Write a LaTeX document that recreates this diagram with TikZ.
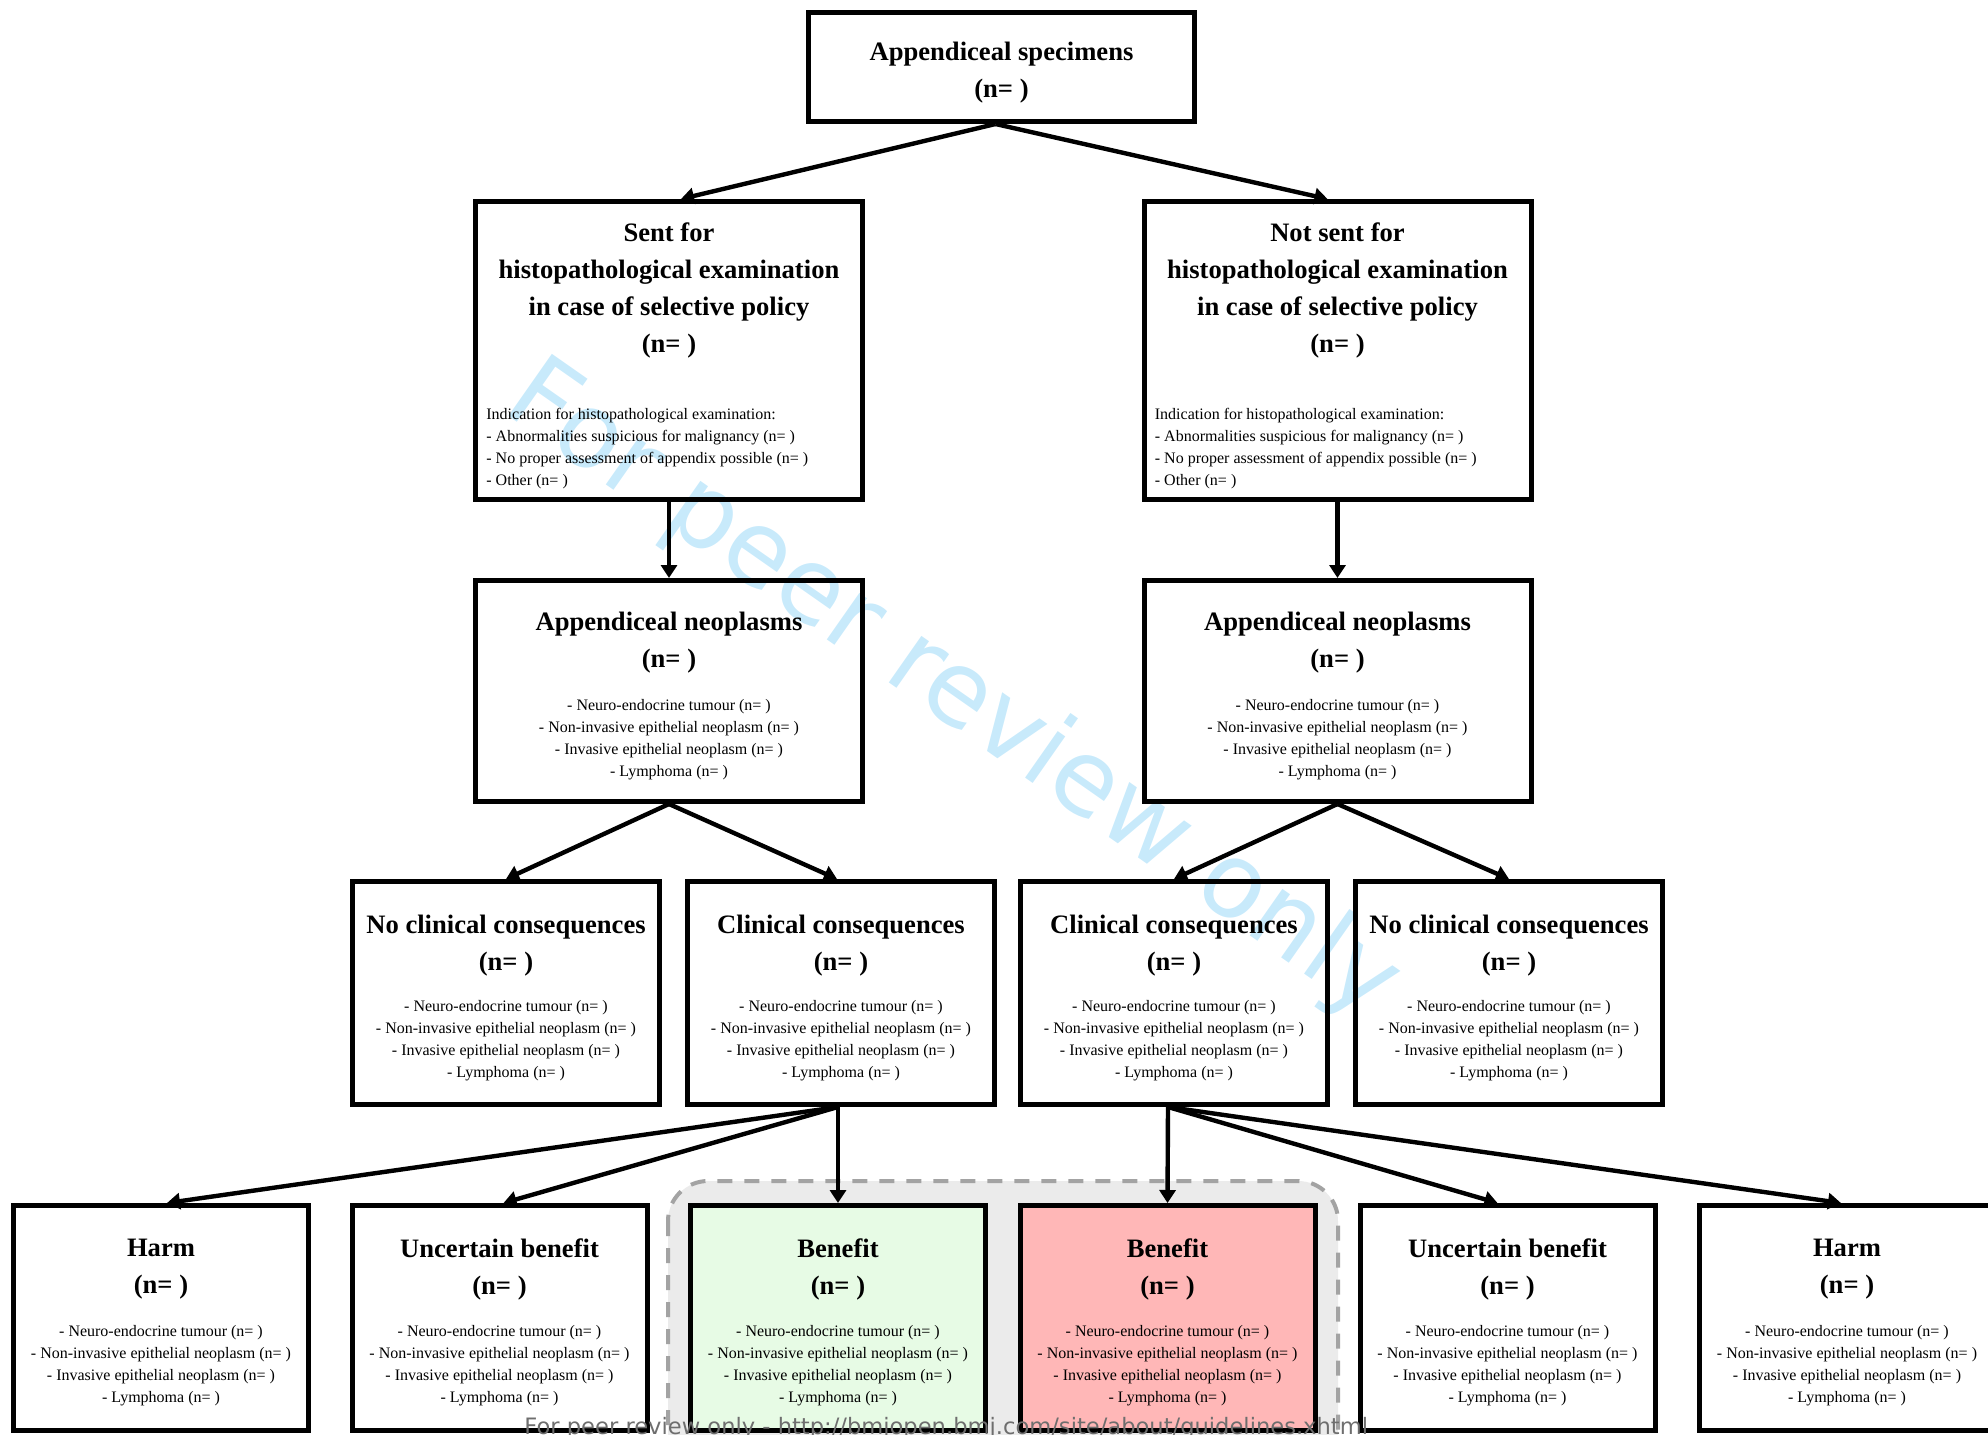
\documentclass[tikz,border=0pt]{standalone}
\usepackage{fontspec}
\setmainfont{Liberation Serif}
\newfontfamily\wmfont{DejaVu Sans}
\usetikzlibrary{arrows.meta}
\definecolor{greenfill}{RGB}{231,251,229}
\definecolor{redfill}{RGB}{255,183,183}
\definecolor{panelfill}{RGB}{235,235,235}
\definecolor{paneldash}{RGB}{163,163,163}
\definecolor{wmblue}{RGB}{200,234,251}
\definecolor{footgray}{RGB}{110,110,110}
\newcommand{\tumlist}{- Neuro-endocrine tumour (n= )\\- Non-invasive epithelial neoplasm (n= )\\- Invasive epithelial neoplasm (n= )\\- Lymphoma (n= )}
\newcommand{\indlist}{Indication for histopathological examination:\\- Abnormalities suspicious for malignancy (n= )\\- No proper assessment of appendix possible (n= )\\- Other (n= )}
\begin{document}
\begin{tikzpicture}[x=0.5pt,y=-0.5pt,
  box/.style={draw=black, line width=2.5pt, inner sep=0pt},
  topbox/.style={box, minimum width=193pt, minimum height=54.5pt},
  bigbox/.style={box, minimum width=193.5pt, minimum height=149pt},
  neobox/.style={box, minimum width=193.5pt, minimum height=110.5pt},
  midbox/.style={box, minimum width=153.5pt, minimum height=111.5pt},
  lowbox/.style={box, minimum width=147.5pt, minimum height=112.5pt},
  ttl/.style={font=\bfseries\fontsize{13.3}{18.5}\selectfont, align=center, inner sep=0pt},
  sml/.style={font=\fontsize{8}{11}\selectfont, align=center, inner sep=0pt},
  smlleft/.style={font=\fontsize{8}{11}\selectfont, align=left, inner sep=0pt},
  arr/.style={-{Triangle[length=6.5pt,width=8pt]}, line width=2.2pt},
]
\useasboundingbox (0,0) rectangle (1988,1435);
\clip (0,0) rectangle (1988,1435);

% watermark
\node[rotate=-35, text=wmblue, font=\wmfont\fontsize{52}{52}\selectfont, inner sep=0pt] (wm) at (952,692) {For peer review only};

% grey panel
\draw[fill=panelfill, draw=paneldash, line width=2pt, dash pattern=on 7.5pt off 6pt, rounded corners=20pt] (668,1181) rectangle (1338,1480);

% boxes
\node[topbox] (top) at (1001.5,67) {};
\node[bigbox] (sent) at (669,350.5) {};
\node[bigbox] (nsent) at (1337.5,350.5) {};
\node[neobox] (neoL) at (669,691) {};
\node[neobox] (neoR) at (1337.5,691) {};
\node[midbox] (ncL) at (506,993) {};
\node[midbox] (cL) at (841,993) {};
\node[midbox] (cR) at (1174,993) {};
\node[midbox] (ncR) at (1509,993) {};
\node[lowbox] (harmL) at (161,1318) {};
\node[lowbox] (uncL) at (499.5,1318) {};
\node[lowbox, fill=greenfill] (benG) at (838,1318) {};
\node[lowbox, fill=redfill] (benR) at (1167.5,1318) {};
\node[lowbox] (uncR) at (1507.5,1318) {};
\node[lowbox] (harmR) at (1847,1318) {};

% texts
\node[ttl] (topt) at (1001.5,73) {Appendiceal specimens\\(n= )};
\node[ttl] (sentt) at (669,290) {Sent for\\histopathological examination\\in case of selective policy\\(n= )};
\node[smlleft, anchor=west] (sentl) at (486,448.5) {\indlist};
\node[ttl] (nsentt) at (1337.5,290) {Not sent for\\histopathological examination\\in case of selective policy\\(n= )};
\node[smlleft, anchor=west] (nsentl) at (1154.5,448.5) {\indlist};

\node[ttl] (neoLt) at (669,642.5) {Appendiceal neoplasms\\(n= )};
\node[sml] (neoLl) at (669,740) {\tumlist};
\node[ttl] (neoRt) at (1337.5,642.5) {Appendiceal neoplasms\\(n= )};
\node[sml] (neoRl) at (1337.5,740) {\tumlist};

\node[ttl] (ncLt) at (506,945.5) {No clinical consequences\\(n= )};
\node[sml] (ncLl) at (506,1041) {\tumlist};
\node[ttl] (cLt) at (841,945.5) {Clinical consequences\\(n= )};
\node[sml] (cLl) at (841,1041) {\tumlist};
\node[ttl] (cRt) at (1174,945.5) {Clinical consequences\\(n= )};
\node[sml] (cRl) at (1174,1041) {\tumlist};
\node[ttl] (ncRt) at (1509,945.5) {No clinical consequences\\(n= )};
\node[sml] (ncRl) at (1509,1041) {\tumlist};

\node[ttl] (harmLt) at (161,1269) {Harm\\(n= )};
\node[sml] (harmLl) at (161,1366) {\tumlist};
\node[ttl] (uncLt) at (499.5,1269) {Uncertain benefit\\(n= )};
\node[sml] (uncLl) at (499.5,1366) {\tumlist};
\node[ttl] (benGt) at (838,1269) {Benefit\\(n= )};
\node[sml] (benGl) at (838,1366) {\tumlist};
\node[ttl] (benRt) at (1167.5,1269) {Benefit\\(n= )};
\node[sml] (benRl) at (1167.5,1366) {\tumlist};
\node[ttl] (uncRt) at (1507.5,1269) {Uncertain benefit\\(n= )};
\node[sml] (uncRl) at (1507.5,1366) {\tumlist};
\node[ttl] (harmRt) at (1847,1269) {Harm\\(n= )};
\node[sml] (harmRl) at (1847,1366) {\tumlist};

% arrows
\draw[arr] ([xshift=-3pt]top.south) -- ([xshift=6pt]sent.north);
\draw[arr] ([xshift=-3pt]top.south) -- ([xshift=-5pt]nsent.north);
\draw[arr] (sent.south) -- (neoL.north);
\draw[arr] (nsent.south) -- (neoR.north);
\draw[arr] (neoL.south) -- (ncL.north);
\draw[arr] (neoL.south) -- ([xshift=-2pt]cL.north);
\draw[arr] (neoR.south) -- (cR.north);
\draw[arr] (neoR.south) -- (ncR.north);
\draw[arr] ([xshift=-1.5pt]cL.south) -- ([xshift=3pt]harmL.north);
\draw[arr] ([xshift=-1.5pt]cL.south) -- ([xshift=2pt]uncL.north);
\draw[arr] ([xshift=-1.5pt]cL.south) -- (benG.north);
\draw[arr] ([xshift=-3pt]cR.south) -- (benR.north);
\draw[arr] ([xshift=-3pt]cR.south) -- ([xshift=-5pt]uncR.north);
\draw[arr] ([xshift=-3pt]cR.south) -- ([xshift=-3pt]harmR.north);

% footer
\node[anchor=base west, text=footgray, font=\wmfont\fontsize{11.3}{12}\selectfont, inner sep=0pt] (foot) at (524,1434) {For peer review only - http://bmjopen.bmj.com/site/about/guidelines.xhtml};
\end{tikzpicture}
\end{document}
